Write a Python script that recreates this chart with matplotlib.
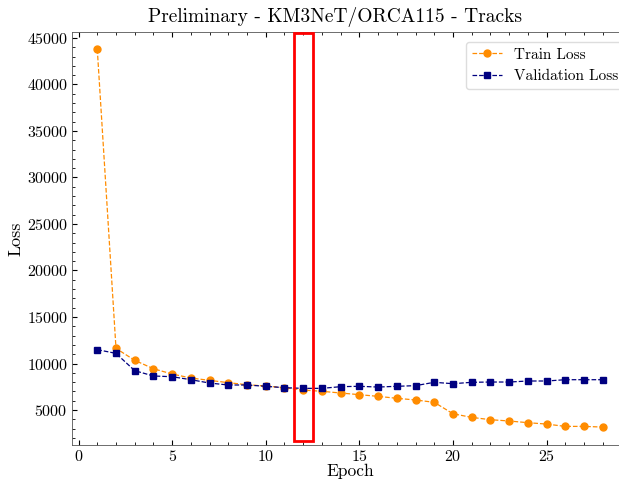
import numpy as np
import matplotlib.pyplot as plt
from matplotlib.patches import Rectangle
from matplotlib.ticker import AutoMinorLocator

plt.rcParams['font.family'] = 'serif'
plt.rcParams['font.serif'] = ['cmr10']
plt.rcParams['mathtext.fontset'] = 'cm'
plt.rcParams['axes.formatter.use_mathtext'] = True
plt.rcParams['axes.unicode_minus'] = False

epochs = list(range(1, 29))
train_loss = [43800, 11630, 10340, 9440, 8870, 8440, 8190, 7940, 7720, 7580,
              7400, 7150, 7010, 6830, 6650, 6470, 6260, 6080, 5830, 4600,
              4210, 3960, 3820, 3640, 3490, 3240, 3240, 3170]
val_loss = [11490, 11090, 9230, 8660, 8580, 8260, 7900, 7690, 7690, 7550,
            7400, 7330, 7330, 7510, 7550, 7470, 7550, 7620, 7980, 7830,
            7980, 8010, 8010, 8120, 8120, 8260, 8260, 8260]

# highlighted epoch (best validation)
best_epoch = 12

fig = plt.figure(figsize=(6.19, 4.8), dpi=100)
ax = fig.add_axes([72 / 619, 1 - 445 / 480, 556 / 619, 413 / 480])

ax.plot(epochs, train_loss, '--o', color='darkorange', lw=0.9, ms=5,
        label='Train Loss')
ax.plot(epochs, val_loss, '--s', color='navy', lw=0.9, ms=5,
        label='Validation Loss')

ax.add_patch(Rectangle((best_epoch - 0.5, 1700), 1.0, 43800, fill=False,
                       edgecolor='red', lw=2, zorder=5))

ax.set_xlim(-0.35, 29.35)
ax.set_ylim(1240, 45640)
ax.xaxis.set_minor_locator(AutoMinorLocator(5))
ax.yaxis.set_minor_locator(AutoMinorLocator(5))
ax.tick_params(which='both', direction='in', top=True, right=True,
               labelsize=11.5, pad=3)
ax.tick_params(which='major', length=3.5)
ax.tick_params(which='minor', length=2)
for s in ax.spines.values():
    s.set_color('#555555')
    s.set_linewidth(0.6)

ax.set_xlabel('Epoch', fontsize=12.5, labelpad=0)
ax.set_ylabel('Loss', fontsize=13, labelpad=2)
ax.set_title('Preliminary - KM3NeT/ORCA115 - Tracks', fontsize=14, pad=7,
             x=0.473)
ax.legend(loc='upper right', bbox_to_anchor=(1.008, 0.995), fontsize=11,
          handlelength=2.0, framealpha=1, edgecolor='#dddddd', fancybox=True)

fig.savefig('out.png', dpi=100)
